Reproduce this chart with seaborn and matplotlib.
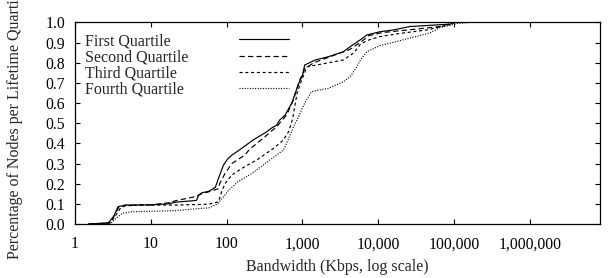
import numpy as np
import pandas as pd
import matplotlib
matplotlib.use("Agg")
import matplotlib.pyplot as plt
import seaborn as sns

# ---- data (Kbps, cumulative fraction) ----
names = ["First Quartile", "Second Quartile", "Third Quartile", "Fourth Quartile"]

q1_bw = [1.5, 2.75, 3.2, 3.7, 4.6, 10, 17, 21, 40, 43, 47, 58, 71, 81, 91, 105, 120, 141,
         224, 339, 398, 457, 501, 589, 724, 832, 933, 1000, 1070, 1480, 2190, 3470, 4270,
         5750, 7080, 10500, 15800, 26300, 89000, 100000]
q1_frac = [0.0, 0.005, 0.035, 0.086, 0.094, 0.095, 0.100, 0.108, 0.117, 0.144, 0.155, 0.162,
           0.182, 0.243, 0.293, 0.326, 0.345, 0.362, 0.417, 0.458, 0.478, 0.490, 0.516, 0.540,
           0.600, 0.665, 0.715, 0.735, 0.789, 0.814, 0.830, 0.855, 0.880, 0.913, 0.938, 0.954,
           0.963, 0.980, 0.992, 1.0]

q2_bw = [1.5, 2.75, 3.3, 3.8, 4.6, 10, 17, 21, 28, 38, 47, 58, 78, 81, 95, 117, 174, 200,
         302, 457, 617, 759, 891, 1070, 1410, 2510, 4170, 5750, 7590, 11200, 26300, 66000, 100000]
q2_frac = [0.0, 0.005, 0.04, 0.085, 0.093, 0.095, 0.105, 0.115, 0.125, 0.135, 0.150, 0.160,
           0.175, 0.200, 0.250, 0.300, 0.342, 0.370, 0.425, 0.483, 0.540, 0.615, 0.700, 0.770,
           0.800, 0.835, 0.865, 0.900, 0.935, 0.950, 0.964, 0.980, 1.0]

q3_bw = [1.6, 2.9, 3.4, 4.0, 4.6, 7.6, 21, 58, 78, 86, 95, 117, 174, 251, 417, 562, 661, 741,
         851, 977, 1150, 2000, 3470, 4790, 5750, 7080, 10500, 19500, 43700, 89000, 100000]
q3_frac = [0.0, 0.005, 0.04, 0.08, 0.09, 0.094, 0.094, 0.098, 0.11, 0.16, 0.20, 0.243, 0.285,
           0.318, 0.376, 0.417, 0.46, 0.52, 0.65, 0.715, 0.78, 0.797, 0.814, 0.85, 0.89, 0.91,
           0.93, 0.946, 0.963, 0.99, 1.0]

q4_bw = [1.6, 3.0, 3.4, 4.2, 5.6, 21, 38, 58, 76, 89, 105, 141, 214, 372, 562, 646, 759, 891,
         1070, 1320, 2190, 3470, 4270, 5010, 5750, 7080, 10500, 14500, 26300, 47900, 66000,
         110000, 162000]
q4_frac = [0.0, 0.005, 0.025, 0.053, 0.061, 0.066, 0.075, 0.080, 0.100, 0.130, 0.165, 0.210,
           0.250, 0.318, 0.367, 0.417, 0.48, 0.533, 0.600, 0.657, 0.673, 0.706, 0.731, 0.77,
           0.81, 0.855, 0.885, 0.898, 0.923, 0.948, 0.975, 0.995, 1.0]

x_ticks = [1, 10, 100, 1000, 10000, 100000, 1000000]
x_tick_labels = ["1", "10", "100", "1,000", "10,000", "100,000", "1,000,000"]
y_ticks = [0.0, 0.1, 0.2, 0.3, 0.4, 0.5, 0.6, 0.7, 0.8, 0.9, 1.0]
y_tick_labels = ["0.0", "0.1", "0.2", "0.3", "0.4", "0.5", "0.6", "0.7", "0.8", "0.9", "1.0"]

series = [(q1_bw, q1_frac), (q2_bw, q2_frac), (q3_bw, q3_frac), (q4_bw, q4_frac)]
frames = []
for name, (bw, fr) in zip(names, series):
    frames.append(pd.DataFrame({"Bandwidth": bw, "Fraction": fr, "Quartile": name}))
df = pd.concat(frames, ignore_index=True)

# ---- style ----
sns.set_theme(style="ticks")
plt.rcParams["font.family"] = ["Liberation Serif", "DejaVu Serif"]
plt.rcParams["font.size"] = 11

fig = plt.figure(figsize=(6.08, 2.78), dpi=100)
ax = fig.add_axes([75 / 608, 1 - 224 / 278, 524.5 / 608, 201.5 / 278])

dash_map = {
    "First Quartile": "",
    "Second Quartile": (4.5, 2.7),
    "Third Quartile": (2.6, 2.3),
    "Fourth Quartile": (0.9, 1.3),
}
sns.lineplot(data=df, x="Bandwidth", y="Fraction", hue="Quartile", style="Quartile",
             palette=["black"] * 4, dashes=dash_map, linewidth=0.85, sort=False,
             estimator=None, legend=False, ax=ax, hue_order=names, style_order=names)

ax.set_xscale("log")
ax.set_xlim(1, 8.3e6)
ax.set_ylim(0, 1.0)
ax.set_xticks(x_ticks)
ax.set_xticklabels(x_tick_labels)
ax.xaxis.set_minor_locator(matplotlib.ticker.NullLocator())
ax.set_yticks(y_ticks)
ax.set_yticklabels(y_tick_labels)
ax.tick_params(axis="both", which="major", direction="in", top=True, right=True,
               length=3.8, width=0.8, labelsize=11.3, colors="black")
ax.tick_params(axis="x", pad=9)
ax.tick_params(axis="y", pad=7)
for sp in ax.spines.values():
    sp.set_visible(True)
    sp.set_linewidth(0.9)
    sp.set_color("black")

ax.set_xlabel("Bandwidth (Kbps, log scale)", fontsize=11.5, labelpad=5)
ax.set_ylabel("Percentage of Nodes per Lifetime Quartile", fontsize=11.5, labelpad=16)

# ---- gnuplot-style key: labels left, samples right ----
lines = ax.get_lines()[:4]
top_y = (224 - 33) / 201.5
leg1 = ax.legend(lines, names, loc="upper left", bbox_to_anchor=((85 - 75) / 524.5, top_y),
                 frameon=False, handlelength=0, handletextpad=0, borderpad=0,
                 borderaxespad=0, labelspacing=0.02, fontsize=11.5)
for h in leg1.legend_handles:
    h.set_visible(False)
ax.add_artist(leg1)
leg2 = ax.legend(lines, names, loc="upper left", bbox_to_anchor=((239 - 75) / 524.5, top_y),
                 frameon=False, handlelength=3.1, handletextpad=0, borderpad=0,
                 borderaxespad=0, labelspacing=0.02, fontsize=11.5)
for t in leg2.get_texts():
    t.set_alpha(0)

fig.savefig("out.png", dpi=100)
